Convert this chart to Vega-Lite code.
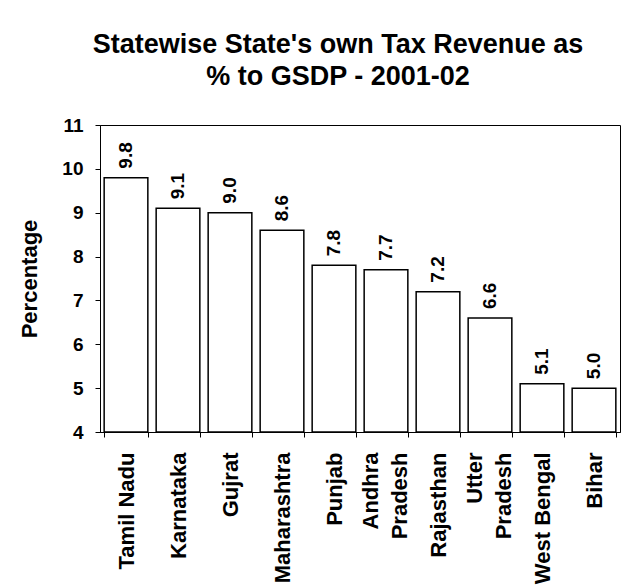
{
  "$schema": "https://vega.github.io/schema/vega-lite/v6.json",
  "width": 520,
  "height": 307,
  "autosize": {"type": "none"},
  "padding": {"left": 100, "top": 125, "right": 11, "bottom": 156},
  "background": "white",
  "title": {
    "text": ["Statewise State's own Tax Revenue as", "% to GSDP - 2001-02"],
    "font": "Liberation Sans",
    "fontSize": 27,
    "fontWeight": "bold",
    "color": "black",
    "anchor": "middle",
    "lineHeight": 32,
    "offset": 25,
    "dx": -22
  },
  "config": {
    "font": "Liberation Sans",
    "view": {"stroke": "black", "strokeWidth": 1}
  },
  "data": {
    "values": [
      {"state": "Tamil Nadu", "value": 9.8},
      {"state": "Karnataka", "value": 9.1},
      {"state": "Gujrat", "value": 9.0},
      {"state": "Maharashtra", "value": 8.6},
      {"state": "Punjab", "value": 7.8},
      {"state": "Andhra Pradesh", "value": 7.7},
      {"state": "Rajasthan", "value": 7.2},
      {"state": "Utter Pradesh", "value": 6.6},
      {"state": "West Bengal", "value": 5.1},
      {"state": "Bihar", "value": 5.0}
    ]
  },
  "encoding": {
    "x": {
      "field": "state",
      "type": "nominal",
      "sort": null,
      "scale": {"paddingInner": 0.16, "paddingOuter": 0.08},
      "axis": {
        "title": null,
        "labelAngle": -90,
        "labelAlign": "right",
        "labelPadding": 15,
        "labelOffset": {
          "condition": {"test": "datum.value == 'Andhra Pradesh' || datum.value == 'Utter Pradesh'", "value": -16},
          "value": 0
        },
        "labelBaseline": "middle",
        "labelFontSize": 22,
        "labelFontWeight": "bold",
        "labelColor": "black",
        "labelLineHeight": 29,
        "tickBand": "extent",
        "tickSize": 5,
        "tickColor": "black",
        "domainColor": "black",
        "labelExpr": "datum.label == 'Andhra Pradesh' ? ['Andhra\u00a0', 'Pradesh'] : datum.label == 'Utter Pradesh' ? ['Utter\u00a0\u00a0', 'Pradesh'] : datum.label"
      }
    },
    "y": {
      "field": "value",
      "type": "quantitative",
      "scale": {"domain": [4, 11], "nice": false, "zero": false, "clamp": true},
      "axis": {
        "title": "Percentage",
        "titleFontSize": 22,
        "titleFontWeight": "bold",
        "titleColor": "black",
        "titlePadding": 20,
        "values": [4, 5, 6, 7, 8, 9, 10, 11],
        "labelFontSize": 19,
        "labelFontWeight": "bold",
        "labelColor": "black",
        "labelPadding": 12,
        "tickSize": 5,
        "tickColor": "black",
        "domainColor": "black",
        "grid": false
      }
    }
  },
  "layer": [
    {
      "mark": {"type": "bar", "fill": "white", "stroke": "black", "strokeWidth": 1.5}
    },
    {
      "mark": {
        "type": "text",
        "angle": -90,
        "align": "left",
        "baseline": "middle",
        "dx": 9,
        "fontSize": 19,
        "fontWeight": "bold",
        "color": "black"
      },
      "encoding": {
        "text": {"field": "value", "type": "quantitative", "format": ".1f"}
      }
    }
  ]
}
